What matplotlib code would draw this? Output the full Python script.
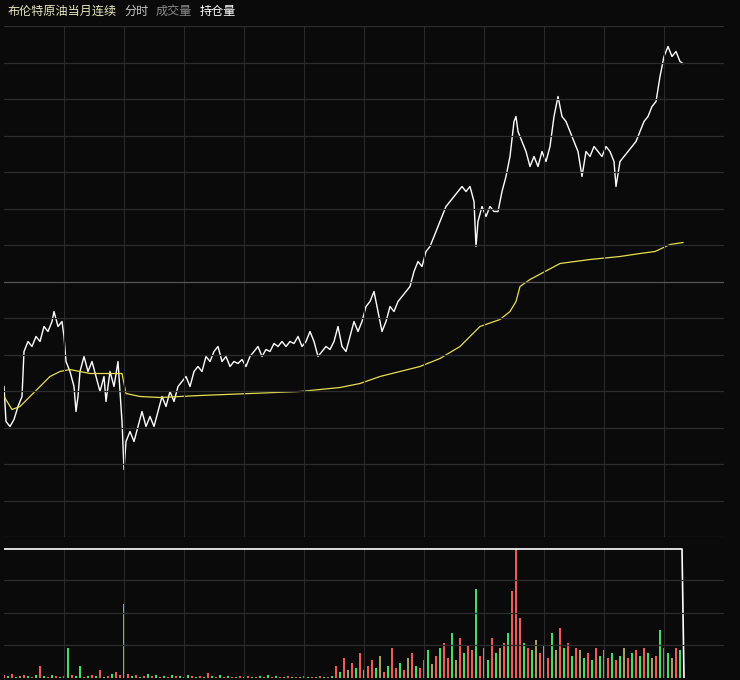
import numpy as np
import matplotlib.pyplot as plt

plt.rcParams['font.family'] = ['Noto Sans CJK SC', 'DejaVu Sans']

# 分时价格 (minute, price)
price_t = [0, 2, 6, 10, 14, 18, 20, 24, 28, 32, 36, 40, 44, 48, 50, 54, 58, 60, 62, 66, 70, 72, 74, 76, 80,
           84, 88, 92, 96, 100, 102, 106, 110, 114, 116, 118, 120, 122, 126, 130, 134, 138, 142, 146, 150, 154,
           158, 162, 166, 170, 174, 178, 182, 186, 190, 194, 198, 202, 206, 210, 214, 218, 222, 226, 230, 234,
           238, 242, 246, 250, 254, 258, 262, 266, 270, 274, 278, 282, 286, 290, 294, 298, 302, 306, 310, 314,
           318, 322, 326, 330, 334, 338, 342, 346, 350, 354, 358, 362, 366, 370, 374, 378, 382, 386, 390, 394,
           398, 402, 406, 410, 414, 418, 422, 426, 430, 434, 438, 442, 446, 450, 454, 458, 462, 466, 470, 472,
           474, 478, 482, 486, 490, 494, 498, 502, 506, 510, 512, 514, 518, 522, 526, 530, 534, 538, 542, 546,
           550, 554, 558, 562, 566, 570, 574, 578, 582, 586, 590, 594, 598, 602, 606, 610, 612, 616, 620, 624,
           628, 632, 636, 640, 644, 648, 652, 656, 660, 664, 668, 672, 676, 679]
price_y = [385, 420, 425, 418, 405, 395, 350, 340, 345, 335, 340, 325, 330, 320, 310, 325, 320, 335, 360, 370,
           385, 410, 395, 370, 355, 370, 360, 375, 390, 375, 400, 370, 385, 360, 390, 420, 468, 440, 430, 440,
           425, 410, 425, 415, 425, 410, 395, 405, 390, 400, 385, 380, 375, 385, 370, 365, 370, 355, 360, 350,
           345, 360, 355, 365, 360, 362, 358, 365, 355, 350, 345, 355, 348, 350, 342, 345, 340, 345, 340, 342,
           335, 345, 340, 330, 340, 355, 350, 345, 348, 340, 325, 345, 350, 335, 320, 330, 320, 305, 300, 290,
           310, 330, 320, 305, 310, 300, 295, 290, 285, 270, 260, 265, 250, 245, 235, 225, 215, 205, 200, 195,
           190, 185, 190, 185, 200, 245, 220, 205, 215, 205, 210, 210, 190, 175, 155, 120, 115, 130, 140, 150,
           165, 155, 165, 150, 160, 145, 115, 95, 115, 120, 130, 140, 150, 175, 150, 155, 145, 150, 155, 145,
           150, 160, 185, 160, 155, 150, 145, 140, 130, 120, 115, 105, 100, 75, 55, 45, 55, 50, 60, 62]
price = [80 + (280 - v) / 73 for v in price_y]

# 均价
avg_t = [0, 8, 16, 26, 36, 46, 56, 66, 86, 106, 118, 122, 136, 156, 196, 246, 296, 336, 356, 376, 396, 416,
         436, 456, 476, 496, 506, 512, 516, 526, 541, 556, 586, 616, 636, 651, 666, 679]
avg_y = [395, 408, 405, 395, 385, 375, 370, 368, 372, 372, 372, 392, 395, 396, 394, 392, 390, 386, 382, 375,
         370, 365, 357, 345, 325, 318, 310, 300, 285, 278, 270, 262, 258, 255, 252, 250, 243, 241]
avg = [80 + (280 - v) / 73 for v in avg_y]

# 成交量 every 4 minutes
vol = [3, 2, 4, 1, 2, 3, 2, 1, 3, 12,
       2, 1, 3, 2, 1, 2, 30, 3, 2, 12,
       1, 2, 3, 2, 8, 1, 2, 4, 6, 3,
       75, 4, 2, 3, 1, 2, 4, 2, 3, 1,
       2, 1, 3, 2, 2, 1, 3, 2, 1, 2,
       1, 5, 2, 1, 3, 1, 2, 1, 1, 2,
       1, 2, 1, 1, 2, 1, 3, 1, 2, 1,
       1, 2, 1, 1, 1, 2, 1, 1, 1, 2,
       1, 1, 2, 12, 6, 20, 8, 15, 10, 25,
       8, 12, 18, 10, 22, 6, 12, 30, 10, 15,
       8, 20, 25, 12, 10, 18, 28, 14, 22, 30,
       35, 20, 45, 18, 40, 25, 32, 28, 90, 22,
       30, 18, 40, 25, 30, 35, 45, 88, 130, 60,
       35, 30, 28, 38, 25, 32, 20, 45, 28, 50,
       30, 35, 22, 30, 28, 20, 25, 18, 30, 22,
       28, 20, 25, 18, 22, 30, 20, 25, 28, 22,
       30, 25, 20, 22, 48, 30, 25, 20, 30, 28]
vol_c = ('rgrgyrgrgr' 'grgrgrgrgg' 'rgrgrgrgrr' 'grgrgrgrgr' 'grgrgrgrgr' 'grgrgrgrgr'
         'grgrgrgrgr' 'grgrgrgrgr' 'grgrgryrgr' 'grrgyrgrrg' 'ryrgrrgyrg' 'rrgyrgrrgr'
         'ygrgyrgrrr' 'grgyrgrgyr' 'grgrygrgrg' 'yrgrgyrgrg' 'rgyrgrgyrg')
vol_t = list(range(0, 4 * len(vol), 4))
colmap = {'r': '#f05a5a', 'g': '#3ee06a', 'y': '#a8a060'}

# 持仓量
oi_t = [0, 678, 679, 680]
oi = [130, 130, 66, 0]

bg = '#0a0a0a'
fig = plt.figure(figsize=(7.4, 6.8), dpi=100, facecolor=bg)
W, H = 740, 680
ax = fig.add_axes([4 / W, 1 - 537 / H, 720 / W, 511 / H], facecolor=bg)
ax2 = fig.add_axes([4 / W, 1 - 678 / H, 720 / W, 130 / H], facecolor=bg)

step = 0.5
lo, hi = 80 - 7 * step, 80 + 7 * step
ax.plot(price_t, price, color='white', lw=1.0)
ax.plot(avg_t, avg, color='#e8e050', lw=0.9)
ax.set_xlim(0, 720)
ax.set_ylim(lo, hi)
for k in range(1, 12):
    ax.axvline(k * 60, color='#2a2a2a', lw=0.8)
    ax2.axvline(k * 60, color='#2a2a2a', lw=0.8)
for k in range(0, 15):
    ax.axhline(lo + k * step, color='#555555' if k == 7 else '#2c2c2c', lw=0.9)

ax2.bar(vol_t, vol, width=2.4, color=[colmap[c] for c in vol_c], align='center')
ax2.plot(oi_t, oi, color='white', lw=1.2)
ax2.set_xlim(0, 720)
ax2.set_ylim(0, 131)
for k in range(1, 4):
    ax2.axhline(k * 33, color='#2c2c2c', lw=0.9)

for a in (ax, ax2):
    a.set_xticks([])
    a.set_yticks([])
    for s in a.spines.values():
        s.set_visible(False)

fs = 8.7
fig.text(8 / W, 1 - 11 / H, '布伦特原油当月连续', color='#e8e8c0', fontsize=fs, va='center')
fig.text(124 / W, 1 - 11 / H, '分时', color='#c8c8c8', fontsize=fs, va='center')
fig.text(156 / W, 1 - 11 / H, '成交量', color='#8a8a8a', fontsize=fs, va='center')
fig.text(200 / W, 1 - 11 / H, '持仓量', color='white', fontsize=fs, va='center')

fig.savefig('out.png', dpi=100, facecolor=bg)
